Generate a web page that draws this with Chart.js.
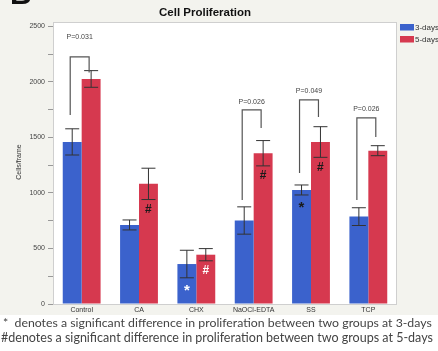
<!DOCTYPE html>
<html>
<head>
<meta charset="utf-8">
<script src="https://cdn.jsdelivr.net/npm/chart.js@4"></script>
<style>
  html, body { margin: 0; padding: 0; background: #fff; }
  #wrap { position: relative; width: 438px; height: 351px; overflow: hidden; }
  canvas { position: absolute; left: 0; top: 0; }
  .note { position: absolute; white-space: nowrap; font-family: Lato, "Open Sans", sans-serif;
          color: #444; line-height: 14px; }
</style>
</head>
<body>
<div id="wrap">
  <canvas id="c" width="438" height="351"></canvas>
  <div class="note" id="n1" style="top:316px; left:3px;">*&nbsp; denotes a significant difference in proliferation between two groups at 3-days</div>
  <div class="note" id="n2" style="top:331px; left:1px;">#denotes a significant difference in proliferation between two groups at 5-days</div>
</div>
<script>
// Cell counts per frame (mean and standard error) after 3 and 5 days
const categories = ['Control', 'CA', 'CHX', 'NaOCl-EDTA', 'SS', 'TCP'];
const day3Mean = [1460, 712, 360, 752, 1027, 787];
const day3Err  = [118, 45, 124, 123, 45, 80];
const day5Mean = [2027, 1082, 444, 1358, 1459, 1381];
const day5Err  = [75, 141, 55, 114, 138, 45];
const yTickLabels = [0, 500, 1000, 1500, 2000, 2500];

// Significance symbols drawn inside the bars
const day3Mark = ['', '', '*', '', '*', ''];
const day5Mark = ['', '#', '#', '#', '#', ''];

// Pairwise comparisons between days (values in cells/frame)
const pCats       = [0, 3, 4, 5];
const pText       = ['P=0.031', 'P=0.026', 'P=0.049', 'P=0.026'];
const pLabelLevel = [2405, 1822, 1922, 1757];
const bracketTop  = [2225, 1748, 1838, 1676];
const legEnd3     = [1703, 937, 1180, 937];
const legEnd5     = [2085, 1586, 1685, 1505];

const BLUE = '#3b62cc';
const RED = '#d6394f';
const FONT = '"Liberation Sans", Arial, sans-serif';

const decor = {
  id: 'decor',
  beforeDraw(chart) {
    const { ctx, chartArea: a } = chart;
    ctx.save();
    ctx.fillStyle = '#f3f3ee';
    ctx.fillRect(0, 0, chart.width, 315);
    ctx.fillStyle = '#ffffff';
    ctx.fillRect(a.left, a.top, a.right - a.left, a.bottom - a.top);
    ctx.strokeStyle = '#cfcfcf';
    ctx.lineWidth = 1;
    ctx.strokeRect(a.left + 0.5, a.top + 0.5, a.right - a.left - 1, a.bottom - a.top);

    // panel letter, mostly above the page edge
    ctx.fillStyle = '#111';
    ctx.font = 'bold 30px ' + FONT;
    ctx.textBaseline = 'alphabetic';
    ctx.fillText('B', 10, 4);

    // title
    ctx.fillStyle = '#111';
    ctx.font = 'bold 11.5px ' + FONT;
    ctx.textAlign = 'center';
    ctx.textBaseline = 'middle';
    ctx.fillText('Cell Proliferation', 205, 12.5);

    // y axis title
    ctx.save();
    ctx.translate(19, 162);
    ctx.rotate(-Math.PI / 2);
    ctx.font = '7px ' + FONT;
    ctx.fillStyle = '#333';
    ctx.fillText('Cells/frame', 0, 0);
    ctx.restore();

    // legend
    const items = [[BLUE, '3-days', 24], [RED, '5-days', 36]];
    ctx.textAlign = 'left';
    ctx.font = '8px ' + FONT;
    items.forEach(([c, t, y]) => {
      ctx.fillStyle = c;
      ctx.fillRect(400, y, 14, 6.5);
      ctx.fillStyle = '#333';
      ctx.fillText(t, 415, y + 3.5);
    });
    ctx.restore();
  },
  afterDatasetsDraw(chart) {
    const { ctx } = chart;
    const y = chart.scales.y;
    const metas = [chart.getDatasetMeta(0), chart.getDatasetMeta(1)];
    const means = [day3Mean, day5Mean];
    const errs = [day3Err, day5Err];
    const marks = [day3Mark, day5Mark];
    ctx.save();

    // error bars
    ctx.strokeStyle = '#333';
    ctx.lineWidth = 1;
    metas.forEach((m, s) => {
      m.data.forEach((bar, i) => {
        const x = bar.x;
        const hi = y.getPixelForValue(means[s][i] + errs[s][i]);
        const lo = y.getPixelForValue(means[s][i] - errs[s][i]);
        ctx.beginPath();
        ctx.moveTo(x, hi); ctx.lineTo(x, lo);
        ctx.moveTo(x - 7, hi); ctx.lineTo(x + 7, hi);
        ctx.moveTo(x - 7, lo); ctx.lineTo(x + 7, lo);
        ctx.stroke();
      });
    });

    // significance symbols just below the lower whisker
    ctx.textAlign = 'center';
    ctx.textBaseline = 'middle';
    metas.forEach((m, s) => {
      m.data.forEach((bar, i) => {
        const sym = marks[s][i];
        if (!sym) return;
        const lo = y.getPixelForValue(means[s][i] - errs[s][i]);
        ctx.fillStyle = categories[i] === 'CHX' ? '#ffffff' : '#1a1a1a';
        ctx.font = (sym === '*' ? 'bold 15px ' : 'bold 12px ') + FONT;
        ctx.fillText(sym, bar.x, lo + (sym === '*' ? 13 : 10));
      });
    });

    // comparison brackets
    ctx.strokeStyle = '#555';
    ctx.lineWidth = 1.2;
    ctx.fillStyle = '#444';
    ctx.font = '7px ' + FONT;
    pCats.forEach((c, k) => {
      const x1 = metas[0].data[c].x - 2;
      const x2 = metas[1].data[c].x - 2;
      const t = y.getPixelForValue(bracketTop[k]);
      ctx.beginPath();
      ctx.moveTo(x1, y.getPixelForValue(legEnd3[k]));
      ctx.lineTo(x1, t);
      ctx.lineTo(x2, t);
      ctx.lineTo(x2, y.getPixelForValue(legEnd5[k]));
      ctx.stroke();
      ctx.fillText(pText[k], (x1 + x2) / 2, y.getPixelForValue(pLabelLevel[k]));
    });
    ctx.restore();
  }
};

new Chart(document.getElementById('c'), {
  type: 'bar',
  data: {
    labels: categories,
    datasets: [
      { label: '3-days', data: day3Mean, backgroundColor: BLUE },
      { label: '5-days', data: day5Mean, backgroundColor: RED }
    ]
  },
  options: {
    responsive: false,
    animation: false,
    events: [],
    layout: { padding: { top: 22, right: 41, left: 0, bottom: 0 } },
    datasets: { bar: { categoryPercentage: 0.66, barPercentage: 1.0 } },
    plugins: { legend: { display: false }, tooltip: { enabled: false }, title: { display: false } },
    scales: {
      x: {
        grid: { display: false, drawTicks: false, tickLength: 0 },
        border: { display: false },
        ticks: { color: '#333', font: { family: FONT, size: 7 }, padding: 2, maxRotation: 0 },
        afterFit(s) { s.height = 47; }
      },
      y: {
        min: 0,
        max: 2540,
        afterBuildTicks(s) {
          s.ticks = [];
          for (let v = 0; v <= 2500; v += 250) s.ticks.push({ value: v });
        },
        ticks: {
          color: '#444',
          font: { family: FONT, size: 7 },
          padding: 3,
          callback: v => (yTickLabels.includes(v) ? String(v) : '')
        },
        grid: { drawOnChartArea: false, drawTicks: true, tickLength: 5, color: '#999' },
        border: { display: false },
        afterFit(s) { s.width = 53; }
      }
    }
  },
  plugins: [decor]
});

// stretch each footnote line across the page width
[['n1', 429], ['n2', 432]].forEach(([id, target]) => {
  const el = document.getElementById(id);
  el.style.fontSize = '12px';
  const w = el.getBoundingClientRect().width;
  el.style.fontSize = (12 * target / w).toFixed(2) + 'px';
});
</script>
</body>
</html>
